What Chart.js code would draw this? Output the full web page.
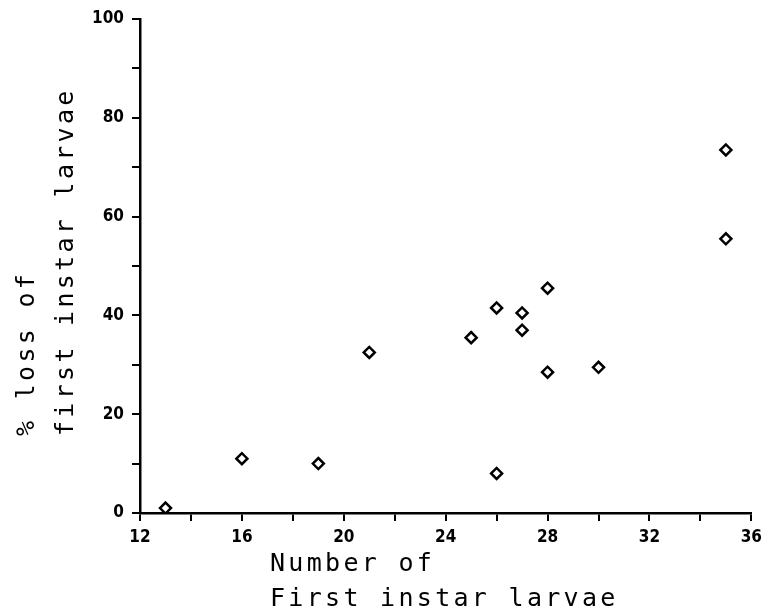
<!DOCTYPE html>
<html>
<head>
<meta charset="utf-8">
<script src="https://cdn.jsdelivr.net/npm/chart.js@4.4.1/dist/chart.umd.min.js"></script>
<style>
    html, body { margin: 0; padding: 0; background: #fff; }
    #wrap { width: 768px; height: 615px; }
</style>
</head>
<body>
<div id="wrap"><canvas id="larvaeChart" width="768" height="615"></canvas></div>
<script>
// data
const larvaeCount = [13, 16, 19, 21, 25, 26, 26, 27, 27, 28, 28, 30, 35, 35];
const pctLoss     = [1, 11, 10, 32.5, 35.5, 41.5, 8, 40.5, 37, 45.5, 28.5, 29.5, 73.5, 55.5];

// labelled ticks (the other ticks are unlabelled minor ones)
const xTickLabels = [12, 16, 20, 24, 28, 32, 36];
const yTickLabels = [0, 20, 40, 60, 80, 100];

const xTitleLines = ['Number of', 'First instar larvae'];
const yTitleLines = ['% loss of', 'first instar larvae'];

const points = larvaeCount.map((x, i) => ({ x: x, y: pctLoss[i] }));

const tickFont = { family: '"Liberation Sans Narrow", "DejaVu Sans Condensed", "DejaVu Sans"', weight: 'bold', size: 17 };

// axis titles in the plotter style (wide letter pitch, left aligned)
const axisTitles = {
    id: 'axisTitles',
    afterDraw(chart) {
        const ctx = chart.ctx;
        ctx.save();
        ctx.fillStyle = '#000';
        ctx.font = '25px "DejaVu Sans Mono"';
        ctx.letterSpacing = '3.3px';
        ctx.textAlign = 'left';
        ctx.textBaseline = 'alphabetic';
        ctx.fillText(xTitleLines[0], 270, 571);
        ctx.fillText(xTitleLines[1], 270, 606);

        ctx.rotate(-Math.PI / 2);
        ctx.fillText(yTitleLines[0], -436, 34);
        ctx.fillText(yTitleLines[1], -436, 73);
        ctx.restore();
    }
};

new Chart(document.getElementById('larvaeChart'), {
    type: 'scatter',
    data: {
        datasets: [{
            data: points,
            pointStyle: 'rectRot',
            pointRadius: 5.5,
            pointBorderWidth: 2.5,
            pointBorderColor: '#000',
            pointBackgroundColor: '#fff'
        }]
    },
    options: {
        responsive: false,
        animation: false,
        layout: { padding: { left: 0, right: 14, top: 19, bottom: 0 } },
        plugins: { legend: { display: false }, tooltip: { enabled: false } },
        scales: {
            x: {
                type: 'linear',
                min: 12,
                max: 36,
                afterFit: (s) => { s.height = 102; },
                border: { color: '#000', width: 2.5 },
                grid: { drawOnChartArea: false, drawTicks: true, tickLength: 8, color: '#000', lineWidth: 2 },
                ticks: {
                    stepSize: 2,
                    autoSkip: false,
                    maxRotation: 0,
                    padding: 6,
                    color: '#000',
                    font: tickFont,
                    callback: (v) => xTickLabels.includes(v) ? String(v) : ''
                }
            },
            y: {
                type: 'linear',
                min: 0,
                max: 100,
                afterFit: (s) => { s.width = 140; },
                border: { color: '#000', width: 2.5 },
                grid: { drawOnChartArea: false, drawTicks: true, tickLength: 8, color: '#000', lineWidth: 2 },
                ticks: {
                    stepSize: 10,
                    autoSkip: false,
                    padding: 8,
                    color: '#000',
                    font: tickFont,
                    callback: (v) => yTickLabels.includes(v) ? String(v) : ''
                }
            }
        }
    },
    plugins: [axisTitles]
});
</script>
</body>
</html>
